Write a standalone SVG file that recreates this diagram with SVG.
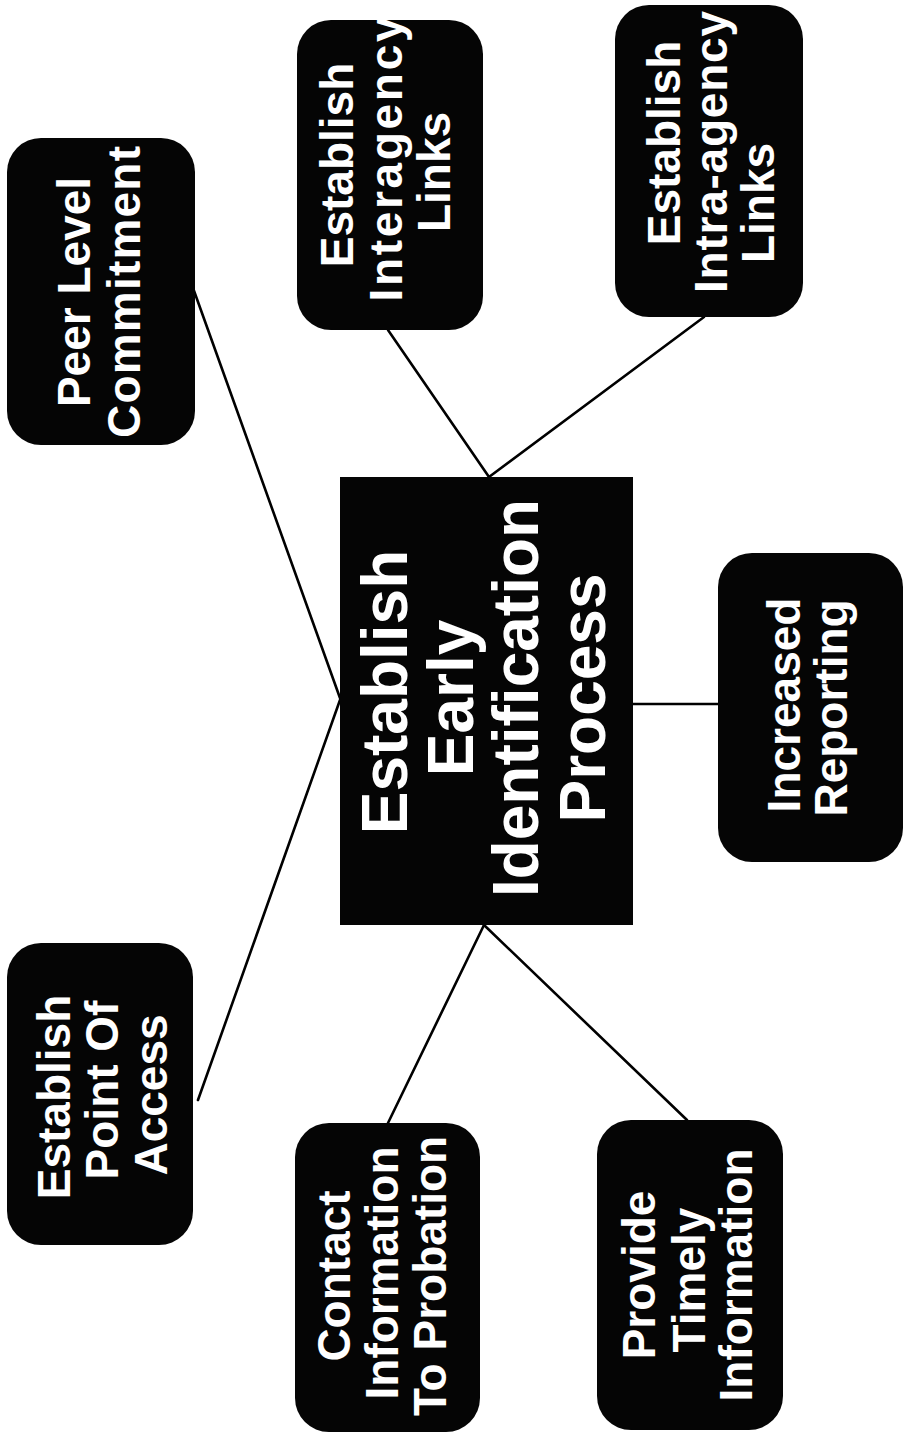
<svg xmlns="http://www.w3.org/2000/svg" width="905" height="1437" viewBox="0 0 905 1437">
<style>
.box{fill:#050505}
.t{fill:#ffffff;font-family:"Liberation Sans",Arial,sans-serif;font-weight:bold;font-size:46px;text-anchor:middle}
.tc{fill:#ffffff;font-family:"Liberation Sans",Arial,sans-serif;font-weight:bold;font-size:64px;text-anchor:middle}
.c{stroke:#000;stroke-width:2.6;fill:none;stroke-linecap:round}
</style>
<rect width="905" height="1437" fill="#ffffff"/>
<g id="connectors">
<line class="c" x1="193" y1="288" x2="340" y2="698"/>
<line class="c" x1="198" y1="1100" x2="340" y2="700"/>
<line class="c" x1="388" y1="330" x2="489" y2="477"/>
<line class="c" x1="704" y1="317" x2="489" y2="477"/>
<line class="c" x1="633" y1="704" x2="718" y2="704"/>
<line class="c" x1="484" y1="925" x2="388" y2="1123"/>
<line class="c" x1="484" y1="925" x2="687" y2="1120"/>
</g>
<g id="center">
<rect class="box" x="340" y="477" width="293" height="448"/>
<text class="tc" transform="translate(407 692) rotate(-90)">Establish</text>
<text class="tc" transform="translate(473 698) rotate(-90)">Early</text>
<text class="tc" transform="translate(538 698) rotate(-90)">Identification</text>
<text class="tc" transform="translate(605 698) rotate(-90)">Process</text>
</g>
<g id="peer">
<rect class="box" x="7" y="138" width="188" height="307" rx="34"/>
<text class="t" transform="translate(90 292) rotate(-90)">Peer Level</text>
<text class="t" transform="translate(140 292) rotate(-90)" textLength="292" lengthAdjust="spacing">Commitment</text>
</g>
<g id="interagency">
<rect class="box" x="297" y="20" width="186" height="310" rx="34"/>
<text class="t" transform="translate(353 165) rotate(-90)">Establish</text>
<text class="t" transform="translate(402 159) rotate(-90)" textLength="285" lengthAdjust="spacing">Interagency</text>
<text class="t" transform="translate(450 172) rotate(-90)">Links</text>
</g>
<g id="intraagency">
<rect class="box" x="615" y="5" width="188" height="312" rx="34"/>
<text class="t" transform="translate(680 143) rotate(-90)">Establish</text>
<text class="t" transform="translate(727 152) rotate(-90)" textLength="282" lengthAdjust="spacing">Intra-agency</text>
<text class="t" transform="translate(774 203) rotate(-90)">Links</text>
</g>
<g id="increased">
<rect class="box" x="718" y="553" width="185" height="309" rx="34"/>
<text class="t" transform="translate(800 705) rotate(-90)">Increased</text>
<text class="t" transform="translate(847 708) rotate(-90)">Reporting</text>
</g>
<g id="access">
<rect class="box" x="7" y="943" width="186" height="302" rx="34"/>
<text class="t" transform="translate(70 1097) rotate(-90)">Establish</text>
<text class="t" transform="translate(118 1090) rotate(-90)">Point Of</text>
<text class="t" transform="translate(167 1095) rotate(-90)">Access</text>
</g>
<g id="contact">
<rect class="box" x="295" y="1123" width="185" height="309" rx="34"/>
<text class="t" transform="translate(350 1276) rotate(-90)">Contact</text>
<text class="t" transform="translate(398 1273) rotate(-90)">Information</text>
<text class="t" transform="translate(446 1276) rotate(-90)">To Probation</text>
</g>
<g id="provide">
<rect class="box" x="597" y="1120" width="186" height="310" rx="34"/>
<text class="t" transform="translate(655 1275) rotate(-90)">Provide</text>
<text class="t" transform="translate(705 1280) rotate(-90)">Timely</text>
<text class="t" transform="translate(752 1275) rotate(-90)">Information</text>
</g>
</svg>
